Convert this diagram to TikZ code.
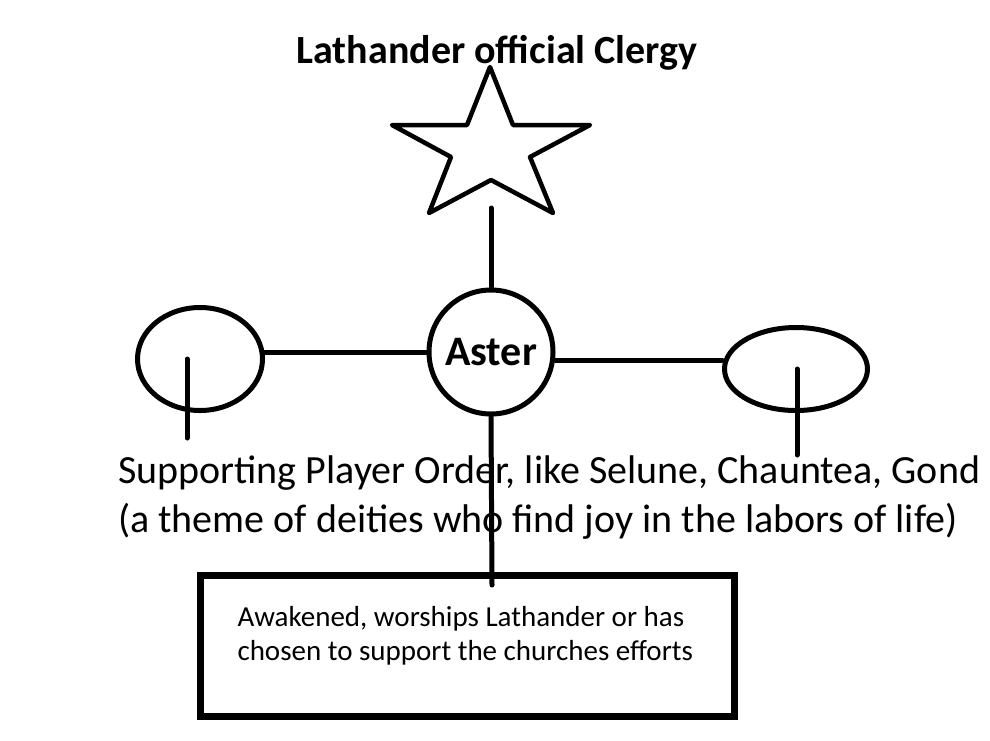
\documentclass[tikz,border=0pt]{standalone}
\usepackage{fontspec}
\setmainfont{Carlito}
\usepackage{tikz}
\usetikzlibrary{positioning,shapes.geometric}

\begin{document}
\begin{tikzpicture}[x=1pt,y=-1pt,
  stroke/.style={line width=5pt,line cap=round},
  orb/.style={draw,ellipse,line width=5pt,inner sep=0pt}]
\useasboundingbox (0,0) rectangle (990,740);

\node[
  font=\fontsize{40}{48}\selectfont\bfseries,
  anchor=base,
  inner sep=0pt
] (clergytitle) at (497,63) {Lathander official Clergy};
\draw[line width=4.5pt,line join=round] (490,67) -- (513,125) -- (590,125) -- (530,157) -- (553,213) -- (491,180)
  -- (429,213) -- (451,157) -- (392,125) -- (467,125) -- cycle;
\coordinate (starfoot) at (491,208);

\node[
  draw,
  circle,
  line width=5pt,
  minimum size=124pt,
  inner sep=0pt,
  font=\fontsize{42}{50}\selectfont\bfseries
] (aster) at (491,352) {Aster};
\node[orb,minimum width=125pt,minimum height=103pt] (leftorb) at (200,359) {};
\node[orb,minimum width=143pt,minimum height=83pt] (rightorb) at (796,369) {};
\coordinate (leftfoot) at (187,438);
\coordinate (rightfoot) at (797,455);

\node[
  anchor=base west,
  align=left,
  inner sep=0pt,
  font=\fontsize{40}{49}\selectfont
] (playerorder) at (118,532) {Supporting Player Order, like Selune, Chauntea, Gond\\(a theme of deities who find joy in the labors of life)};

\node[
  draw,
  line width=7pt,
  inner sep=0pt
] (awakened) at (467.5,646) {%
\begin{minipage}[c][141pt][t]{534pt}
\vspace{31pt}
\hspace{37pt}%
\begin{minipage}[t]{490pt}
\fontsize{29}{34}\selectfont
Awakened, worships Lathander or has\\
chosen to support the churches efforts
\end{minipage}
\end{minipage}};
\coordinate (awaketip) at (492,585);

\draw[stroke] (starfoot) -- (aster.north);
\draw[stroke] (aster.west) -- (aster.west -| leftorb.east);
\draw[stroke] ([yshift=-8pt]aster.east) -- ([yshift=-8pt]aster.east -| rightorb.west);
\draw[stroke] (leftfoot |- leftorb.center) -- (leftfoot);
\draw[stroke] (rightfoot |- rightorb.center) -- (rightfoot);
\draw[stroke] (aster.south) -- (awaketip);
\end{tikzpicture}
\end{document}
